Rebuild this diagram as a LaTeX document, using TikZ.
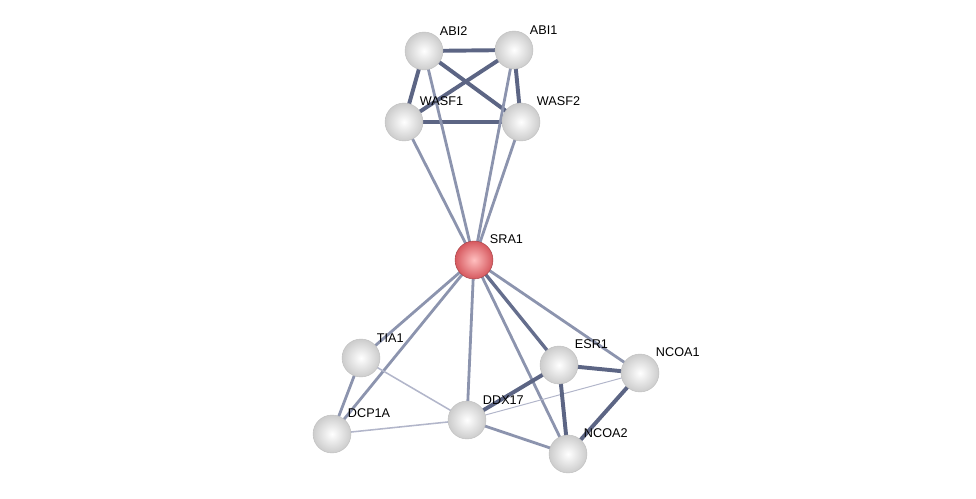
\documentclass[tikz,border=0pt]{standalone}
\usepackage{fontspec}
\setmainfont{Liberation Sans}
\usetikzlibrary{backgrounds}

\definecolor{edgedark}{RGB}{92,101,132}
\definecolor{edgemid}{RGB}{140,148,174}
\definecolor{edgelight}{RGB}{178,182,202}
\definecolor{ballred}{RGB}{214,88,94}

\tikzset{
  prot/.style={circle, minimum size=38*0.025cm, inner sep=0pt,
    shading=radial, inner color=white, outer color=gray!40,
    draw=gray!50, line width=0.3pt,
    label={[lbl]north east:#1}},
  query/.style={prot=#1, inner color=red!25!white, outer color=ballred,
    draw=ballred!75!black},
  lbl/.style={font=\fontsize{9}{10}\selectfont, inner sep=1.5pt},
  strong/.style={edgedark, line width=2.8pt},
  medium/.style={edgemid, line width=2pt},
  weak/.style={edgelight, line width=1.1pt},
}

\begin{document}
\begin{tikzpicture}[x=0.025cm, y=-0.025cm]
  \useasboundingbox (0,0) rectangle (976,499);
  % proteins
  \node[prot=ABI2] (abi2) at (424,51) {};
  \node[prot=ABI1] (abi1) at (514,50) {};
  \node[prot=WASF1] (wasf1) at (404,122) {};
  \node[prot=WASF2] (wasf2) at (521,122) {};
  \node[query=SRA1] (sra1) at (474,260) {};
  \node[prot=TIA1] (tia1) at (361,358) {};
  \node[prot=DCP1A] (dcp1a) at (332,434) {};
  \node[prot=DDX17] (ddx17) at (467,420) {};
  \node[prot=ESR1] (esr1) at (559,365) {};
  \node[prot=NCOA1] (ncoa1) at (640,373) {};
  \node[prot=NCOA2] (ncoa2) at (568,454) {};

  \begin{scope}[on background layer]
    % WAVE complex
    \draw[strong] (abi2.center) -- (abi1.center);
    \draw[strong] (abi2.center) -- (wasf1.center);
    \draw[strong] (abi2.center) -- (wasf2.center);
    \draw[strong] (abi1.center) -- (wasf1.center);
    \draw[strong] (abi1.center) -- (wasf2.center);
    \draw[strong] (wasf1.center) -- (wasf2.center);
    % links to SRA1
    \draw[medium] (sra1.center) -- (wasf1.center);
    \draw[medium] (sra1.center) -- (abi2.center);
    \draw[medium] (sra1.center) -- (abi1.center);
    \draw[medium] (sra1.center) -- (wasf2.center);
    \draw[medium] (sra1.center) -- (tia1.center);
    \draw[medium] (sra1.center) -- (dcp1a.center);
    \draw[medium] (sra1.center) -- (ddx17.center);
    \draw[medium, edgedark!80!edgemid, line width=2.4pt] (sra1.center) -- (esr1.center);
    \draw[medium] (sra1.center) -- (ncoa1.center);
    \draw[medium] (sra1.center) -- (ncoa2.center);
    % lower cluster
    \draw[medium] (tia1.center) -- (dcp1a.center);
    \draw[weak] (tia1.center) -- (ddx17.center);
    \draw[weak] (dcp1a.center) -- (ddx17.center);
    \draw[strong] (ddx17.center) -- (esr1.center);
    \draw[medium] (ddx17.center) -- (ncoa2.center);
    \draw[edgelight, line width=0.7pt] (ddx17.center) -- (ncoa1.center);
    \draw[strong] (esr1.center) -- (ncoa1.center);
    \draw[strong] (esr1.center) -- (ncoa2.center);
    \draw[strong] (ncoa1.center) -- (ncoa2.center);
  \end{scope}
\end{tikzpicture}
\end{document}
